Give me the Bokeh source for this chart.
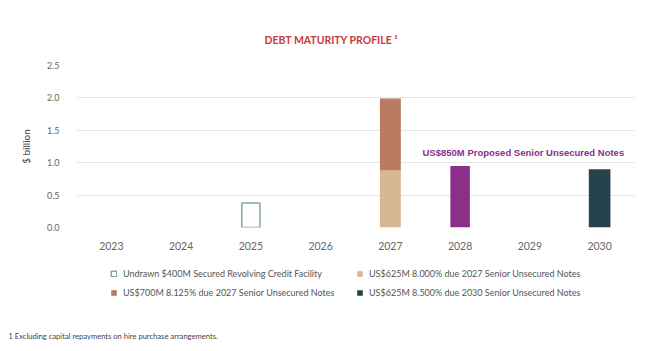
from bokeh.plotting import figure
from bokeh.layouts import column
from bokeh.models import (FactorRange, Range1d, ColumnDataSource, Label, Legend, LegendItem,
                          FixedTicker, NumeralTickFormatter, Title)
from bokeh.embed import file_html
from bokeh.resources import INLINE

years = ["2023", "2024", "2025", "2026", "2027", "2028", "2029", "2030"]
revolver_undrawn = [0, 0, 0.38, 0, 0, 0, 0, 0]
notes_625_8000_2027 = [0, 0, 0, 0, 0.88, 0, 0, 0]
notes_700_8125_2027 = [0, 0, 0, 0, 1.11, 0, 0, 0]
proposed_850_2028 = [0, 0, 0, 0, 0, 0.95, 0, 0]
notes_625_8500_2030 = [0, 0, 0, 0, 0, 0, 0, 0.90]
y_ticks = [0.0, 0.5, 1.0, 1.5, 2.0, 2.5]

labels = {
    "rev": "Undrawn $400M Secured Revolving Credit Facility",
    "n8000": "US$625M 8.000% due 2027 Senior Unsecured Notes",
    "n8125": "US$700M 8.125% due 2027 Senior Unsecured Notes",
    "n8500": "US$625M 8.500% due 2030 Senior Unsecured Notes",
}
title_text = "DEBT MATURITY PROFILE \u00b9"
annotation_text = "US$850M Proposed Senior Unsecured Notes"
footnote_text = "1 Excluding capital repayments on hire purchase arrangements."

FONT = "Lato"
GREY = "#666666"
STYLES = {
    "rev": dict(width=0.26, fill_color="white", line_color="#84a6aa", line_width=1.5),
    "n8000": dict(width=0.3, fill_color="#d8b894", line_color=None),
    "n8125": dict(width=0.3, fill_color="#b97c60", line_color=None),
    "n850": dict(width=0.28, fill_color="#8a2f8a", line_color=None),
    "n8500": dict(width=0.31, fill_color="#26424d", line_color=None),
}


def src(values, base=None):
    base = base or [0] * len(values)
    xs, bot, top = [], [], []
    for yr, v, b in zip(years, values, base):
        if v:
            xs.append(yr)
            bot.append(b)
            top.append(b + v)
    return ColumnDataSource(dict(x=xs, bottom=bot, top=top))


sources = {
    "rev": src(revolver_undrawn),
    "n8000": src(notes_625_8000_2027),
    "n8125": src(notes_700_8125_2027, notes_625_8000_2027),
    "n850": src(proposed_850_2028),
    "n8500": src(notes_625_8500_2030),
}


def strip(height, **kw):
    f = figure(width=663, height=height, output_backend="svg", toolbar_location=None,
               x_axis_location=None, y_axis_location=None, min_border=0, **kw)
    f.outline_line_color = None
    f.grid.visible = False
    f.background_fill_color = "white"
    f.border_fill_color = "white"
    return f


# ---------------- title strip ----------------
t = strip(52, x_range=Range1d(0, 1), y_range=Range1d(0, 1))
t.add_layout(Label(x=188, y=13, x_units="screen", y_units="screen", text=title_text,
                   text_align="left", text_baseline="middle", text_font=FONT,
                   text_font_style="bold", text_font_size="10.5px", text_color="#c8383c"))

# ---------------- main chart ----------------
p = figure(x_range=FactorRange(factors=years), y_range=Range1d(0, 2.5),
           width=663, height=210, output_backend="svg", toolbar_location=None,
           min_border_left=76, min_border_right=29, min_border_top=13, min_border_bottom=35)
p.outline_line_color = None
p.background_fill_color = "white"
p.border_fill_color = "white"

for key in ["rev", "n8000", "n8125", "n850", "n8500"]:
    p.vbar(x="x", bottom="bottom", top="top", source=sources[key], **STYLES[key])

p.xgrid.grid_line_color = None
p.ygrid.grid_line_color = "#e6e6e6"
p.ygrid.grid_line_width = 1
p.yaxis.ticker = FixedTicker(ticks=y_ticks)
p.yaxis.formatter = NumeralTickFormatter(format="0.0")
for ax in (p.xaxis[0], p.yaxis[0]):
    ax.axis_line_color = None
    ax.major_tick_line_color = None
    ax.minor_tick_line_color = None
    ax.major_label_text_color = GREY
    ax.major_label_text_font = FONT
p.yaxis.major_label_text_font_size = "9px"
p.yaxis.major_label_standoff = 11
p.xaxis.major_label_text_font_size = "10.5px"
p.xaxis.major_label_standoff = 8
p.yaxis.axis_label = "$ billion"
p.yaxis.axis_label_text_font = FONT
p.yaxis.axis_label_text_font_style = "normal"
p.yaxis.axis_label_text_font_size = "10px"
p.yaxis.axis_label_text_color = "#444444"
p.yaxis.axis_label_standoff = 12

p.add_layout(Label(x=346, y=75, x_units="screen", y_units="screen", text=annotation_text,
                   text_align="left", text_baseline="middle", text_font="Liberation Sans",
                   text_font_style="bold", text_font_size="9.5px", text_color="#8a2f8a"))

# ---------------- legend + footnote strip ----------------
q = strip(89, x_range=FactorRange(factors=years), y_range=Range1d(0, 2.5))
q.min_border_bottom = 23

leg_r = {}
for key in ["rev", "n8000", "n8125", "n8500"]:
    r = q.vbar(x="x", bottom="bottom", top="top", source=sources[key], **STYLES[key])
    r.visible = False
    leg_r[key] = r

legend = Legend(items=[
    LegendItem(label=labels["rev"], renderers=[leg_r["rev"]]),
    LegendItem(label=labels["n8125"], renderers=[leg_r["n8125"]]),
    LegendItem(label=labels["n8000"], renderers=[leg_r["n8000"]]),
    LegendItem(label=labels["n8500"], renderers=[leg_r["n8500"]]),
], ncols=2, location=(34, 30))
legend.border_line_color = None
legend.background_fill_alpha = 0
legend.inactive_fill_alpha = 0
legend.padding = 0
legend.margin = 0
legend.glyph_width = 7
legend.glyph_height = 7
legend.label_height = 12
legend.label_width = 226
legend.label_standoff = 6
legend.spacing = 7
legend.label_text_font = FONT
legend.label_text_font_size = "9px"
legend.label_text_color = "#555555"
q.add_layout(legend)

q.add_layout(Title(text=footnote_text, align="left", offset=-68, standoff=0,
                   text_font=FONT, text_font_style="normal", text_font_size="7.6px",
                   text_color="#444444"), "below")

layout = column(t, p, q, spacing=0)
open("out.html", "w").write(file_html(layout, INLINE))
